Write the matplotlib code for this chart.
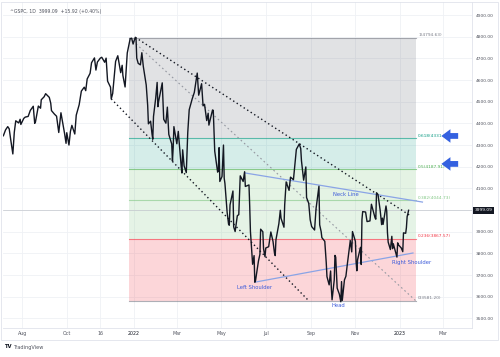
import matplotlib
matplotlib.use('Agg')
import matplotlib.pyplot as plt
import matplotlib.dates as mdates
import pandas as pd
from matplotlib.patches import Rectangle

# ---------------- data ----------------
dates = [
 '2021-07-06','2021-07-09','2021-07-12','2021-07-14','2021-07-16','2021-07-19','2021-07-21','2021-07-23',
 '2021-07-27','2021-07-29','2021-07-30','2021-08-03','2021-08-05','2021-08-09','2021-08-12','2021-08-16',
 '2021-08-18','2021-08-19','2021-08-23','2021-08-26','2021-08-27','2021-08-31','2021-09-02','2021-09-07',
 '2021-09-09','2021-09-10','2021-09-14','2021-09-17','2021-09-20','2021-09-23','2021-09-28','2021-09-30',
 '2021-10-01','2021-10-04','2021-10-06','2021-10-08','2021-10-12','2021-10-14','2021-10-18','2021-10-21',
 '2021-10-25','2021-10-27','2021-10-29','2021-11-02','2021-11-04','2021-11-08','2021-11-10','2021-11-12',
 '2021-11-16','2021-11-18','2021-11-22','2021-11-24','2021-11-26','2021-11-30','2021-12-01','2021-12-03',
 '2021-12-07','2021-12-10','2021-12-14','2021-12-16','2021-12-17','2021-12-20','2021-12-23','2021-12-27',
 '2021-12-29','2021-12-31','2022-01-03','2022-01-04','2022-01-05','2022-01-07','2022-01-10','2022-01-12',
 '2022-01-14','2022-01-18','2022-01-20','2022-01-21','2022-01-24','2022-01-26','2022-01-27','2022-01-28',
 '2022-01-31','2022-02-02','2022-02-03','2022-02-04','2022-02-09','2022-02-10','2022-02-11','2022-02-14',
 '2022-02-16','2022-02-18','2022-02-22','2022-02-23','2022-02-24','2022-02-25','2022-03-01','2022-03-03',
 '2022-03-07','2022-03-08','2022-03-09','2022-03-11','2022-03-14','2022-03-16','2022-03-18','2022-03-22',
 '2022-03-25','2022-03-29','2022-03-31','2022-04-04','2022-04-06','2022-04-08','2022-04-11','2022-04-13',
 '2022-04-14','2022-04-19','2022-04-20','2022-04-22','2022-04-26','2022-04-27','2022-04-28','2022-04-29',
 '2022-05-02','2022-05-04','2022-05-05','2022-05-06','2022-05-09','2022-05-11','2022-05-12','2022-05-13',
 '2022-05-17','2022-05-18','2022-05-20','2022-05-23','2022-05-25','2022-05-27','2022-05-31','2022-06-02',
 '2022-06-03','2022-06-08','2022-06-09','2022-06-10','2022-06-13','2022-06-15','2022-06-16','2022-06-17',
 '2022-06-21','2022-06-23','2022-06-24','2022-06-27','2022-06-28','2022-06-30','2022-07-01','2022-07-05',
 '2022-07-08','2022-07-11','2022-07-13','2022-07-14','2022-07-15','2022-07-19','2022-07-21','2022-07-22',
 '2022-07-26','2022-07-27','2022-07-29','2022-08-02','2022-08-04','2022-08-08','2022-08-10','2022-08-12',
 '2022-08-16','2022-08-18','2022-08-19','2022-08-22','2022-08-25','2022-08-26','2022-08-29','2022-08-31',
 '2022-09-02','2022-09-06','2022-09-08','2022-09-12','2022-09-13','2022-09-15','2022-09-16','2022-09-20',
 '2022-09-22','2022-09-23','2022-09-26','2022-09-28','2022-09-29','2022-09-30','2022-10-03','2022-10-04',
 '2022-10-05','2022-10-07','2022-10-10','2022-10-12','2022-10-13','2022-10-14','2022-10-17','2022-10-19',
 '2022-10-21','2022-10-25','2022-10-27','2022-10-28','2022-11-01','2022-11-02','2022-11-03','2022-11-04',
 '2022-11-08','2022-11-09','2022-11-10','2022-11-11','2022-11-15','2022-11-17','2022-11-21','2022-11-23',
 '2022-11-28','2022-11-29','2022-11-30','2022-12-01','2022-12-02','2022-12-05','2022-12-07','2022-12-08',
 '2022-12-09','2022-12-13','2022-12-14','2022-12-15','2022-12-16','2022-12-19','2022-12-21','2022-12-22',
 '2022-12-23','2022-12-28','2022-12-29','2022-12-30','2023-01-03','2023-01-05','2023-01-06','2023-01-09',
 '2023-01-10','2023-01-11','2023-01-12','2023-01-13',
]
closes = [
 4343, 4370, 4385, 4375, 4327, 4259, 4359, 4412,
 4402, 4419, 4395, 4423, 4429, 4432, 4460, 4479,
 4400, 4406, 4480, 4470, 4509, 4523, 4537, 4520,
 4493, 4459, 4443, 4433, 4358, 4449, 4353, 4308,
 4357, 4300, 4363, 4391, 4351, 4438, 4486, 4549,
 4567, 4551, 4605, 4631, 4680, 4702, 4646, 4683,
 4701, 4705, 4682, 4701, 4595, 4567, 4513, 4538,
 4686, 4712, 4634, 4668, 4621, 4568, 4725, 4791,
 4793, 4766, 4797, 4794, 4701, 4677, 4670, 4726,
 4663, 4577, 4483, 4398, 4410, 4350, 4327, 4432,
 4516, 4589, 4477, 4501, 4587, 4504, 4419, 4401,
 4475, 4349, 4305, 4226, 4288, 4385, 4306, 4363,
 4201, 4171, 4278, 4204, 4173, 4358, 4463, 4512,
 4543, 4632, 4530, 4583, 4481, 4488, 4413, 4447,
 4392, 4462, 4460, 4272, 4175, 4183, 4288, 4132,
 4155, 4300, 4147, 4123, 3991, 3935, 3930, 4024,
 4088, 3923, 3901, 3974, 3979, 4158, 4132, 4177,
 4109, 4116, 4018, 3901, 3750, 3790, 3667, 3675,
 3765, 3796, 3912, 3900, 3821, 3785, 3825, 3831,
 3899, 3855, 3801, 3790, 3863, 3937, 3999, 3962,
 3921, 4024, 4130, 4091, 4152, 4140, 4210, 4280,
 4305, 4284, 4228, 4138, 4199, 4058, 4031, 3955,
 3924, 3908, 4006, 4110, 3932, 3901, 3873, 3856,
 3758, 3693, 3655, 3719, 3640, 3586, 3678, 3791,
 3783, 3640, 3612, 3577, 3670, 3583, 3678, 3695,
 3752, 3859, 3807, 3901, 3856, 3760, 3720, 3771,
 3828, 3749, 3956, 3993, 3991, 3947, 3950, 4027,
 3964, 3958, 4080, 4076, 4072, 3999, 3933, 3963,
 3934, 4019, 3995, 3896, 3852, 3818, 3879, 3822,
 3845, 3783, 3849, 3840, 3825, 3808, 3895, 3893,
 3919, 3970, 3983, 3999.09,
]

header_text = '^GSPC, 1D  3999.09  +15.92 (+0.40%)'
last_price = 3999.09

fib_high = 4794.63
fib_low = 3581.20
fib_levels = [1, 0.618, 0.5, 0.382, 0.236, 0]
fib_colors = ['#787b86', '#089981', '#4caf50', '#81c784', '#f23645', '#787b86']
fib_span = ['2021-12-26', '2023-01-23']

upper_trend_dates = ['2022-01-03', '2023-01-15']
upper_trend_vals = [4797, 3975]
lower_trend_dates = ['2021-12-01', '2022-08-28']
lower_trend_vals = [4513, 3585]
neck_dates = ['2022-06-03', '2023-02-01']
neck_vals = [4171, 4037]
shoulder_dates = ['2022-06-17', '2023-01-19']
shoulder_vals = [3668, 3802]

pattern_labels = ['Neck Line', 'Left Shoulder', 'Head', 'Right Shoulder']
pattern_label_dates = ['2022-10-19', '2022-06-16', '2022-10-09', '2023-01-17']
pattern_label_vals = [4070, 3645, 3562, 3756]

arrow_vals = [4342, 4213]

xtick_dates = ['2021-08-01', '2021-10-01', '2021-11-16', '2022-01-01', '2022-03-01', '2022-05-01',
               '2022-07-01', '2022-09-01', '2022-11-01', '2023-01-01', '2023-03-01']
xtick_labels = ['Aug', 'Oct', '16', '2022', 'Mar', 'May', 'Jul', 'Sep', 'Nov', '2023', 'Mar']
ytick_vals = [3500, 3600, 3700, 3800, 3900, 4000, 4100, 4200, 4300, 4400, 4500, 4600, 4700, 4800, 4900]

# ---------------- figure ----------------
W, H = 500, 357
fig = plt.figure(figsize=(W / 100, H / 100), dpi=100)
ax = fig.add_axes([3 / W, 1 - 328 / H, 469 / W, 326 / H])

d = pd.to_datetime(dates)
dn = lambda s: mdates.date2num(pd.to_datetime(s))

ax.set_xlim(dn('2021-07-05 12:00'), dn('2023-04-10'))
ax.set_ylim(3456, 4960)

# grid
for xd in xtick_dates:
    ax.axvline(dn(xd), color='#eff1f5', lw=0.6, zorder=0.5)
for yv in ytick_vals:
    ax.axhline(yv, color='#eff1f5', lw=0.6, zorder=0.5)

# fib zones
fx0, fx1 = dn(fib_span[0]), dn(fib_span[1])
fvals = [fib_low + l * (fib_high - fib_low) for l in fib_levels]
zone_alpha = [0.22, 0.17, 0.15, 0.2, 0.2]
for i in range(len(fib_levels) - 1):
    ax.fill_between([fx0, fx1], fvals[i + 1], fvals[i], color=fib_colors[i],
                    alpha=zone_alpha[i], lw=0, zorder=1)
for l, v, c in zip(fib_levels, fvals, fib_colors):
    ax.plot([fx0, fx1], [v, v], color=c, lw=0.8, alpha=0.6, zorder=1.5)
    ax.text(dn('2023-01-26'), v + 3, f'{l}({v:.2f})', color=c, fontsize=3.1,
            ha='left', va='bottom', zorder=5)
ax.plot([fx0, fx1], [fib_high, fib_low], color='#9598a1', lw=0.8,
        linestyle=(0, (1.5, 2.5)), zorder=2)

# last price line
ax.axhline(last_price, color='#c5c8cf', lw=0.5, zorder=1.6)

# trend lines
ax.plot([dn(s) for s in upper_trend_dates], upper_trend_vals, color='#131722', lw=1.0,
        linestyle=(0, (1, 2)), zorder=3)
ax.plot([dn(s) for s in lower_trend_dates], lower_trend_vals, color='#131722', lw=1.0,
        linestyle=(0, (1, 2)), zorder=3)
ax.plot([dn(s) for s in neck_dates], neck_vals, color='#8aa4e6', lw=0.9, zorder=3)
ax.plot([dn(s) for s in shoulder_dates], shoulder_vals, color='#8aa4e6', lw=0.9, zorder=3)

# price
ax.plot(d, closes, color='#131722', lw=1.0, zorder=4)

for t, ds, v in zip(pattern_labels, pattern_label_dates, pattern_label_vals):
    ax.text(dn(ds), v, t, color='#3d5bd9', fontsize=3.8, ha='center', va='center', zorder=5)

for v in arrow_vals:
    ax.annotate('', xy=(dn('2023-02-27'), v), xytext=(dn('2023-03-22'), v),
                arrowprops=dict(arrowstyle='simple,head_length=0.5,head_width=0.75,tail_width=0.32',
                                color='#3461e0', lw=0, mutation_scale=13,
                                shrinkA=0, shrinkB=0), zorder=6)

# axes styling
ax.set_xticks([dn(s) for s in xtick_dates])
ax.set_xticklabels(xtick_labels)
for lab, txt in zip(ax.get_xticklabels(), xtick_labels):
    lab.set_color('#131722' if txt in ('2022', '2023') else '#50535e')
ax.tick_params(axis='x', length=0, labelsize=3.4, pad=2.5)
ax.yaxis.tick_right()
ax.set_yticks(ytick_vals)
ax.set_yticklabels(['' if v == 4000 else f'{v:.2f}' for v in ytick_vals])
ax.tick_params(axis='y', length=0, labelsize=3.2, labelcolor='#50535e', pad=3)
for s in ['top', 'left']:
    ax.spines[s].set_visible(False)
for s in ['bottom', 'right']:
    ax.spines[s].set_color('#e0e3eb')
    ax.spines[s].set_linewidth(0.6)

# last price box
ax.text(1.006, (last_price - 3456) / (4960 - 3456), f'{last_price:.2f}', transform=ax.transAxes,
        fontsize=3.2, color='white', ha='left', va='center',
        bbox=dict(boxstyle='square,pad=0.35', fc='#131722', ec='none'), zorder=10, clip_on=False)

# header
ax.text(7 / 469, 1 - 9 / 326, header_text, transform=ax.transAxes, fontsize=3.3,
        color='#50535e', ha='left', va='center')

# outer frame
fig.patches.append(Rectangle((1 / W, 1 - 340 / H), 497 / W, 338 / H, transform=fig.transFigure,
                             fill=False, ec='#e0e3eb', lw=0.6))

# TradingView logo
fig.text(4 / W, 1 - 347 / H, 'TV', fontsize=3.8, fontweight='bold', color='#131722', va='center')
fig.text(13 / W, 1 - 347 / H, 'TradingView', fontsize=3.6, color='#50535e', va='center')

fig.savefig('out.png', dpi=100)
